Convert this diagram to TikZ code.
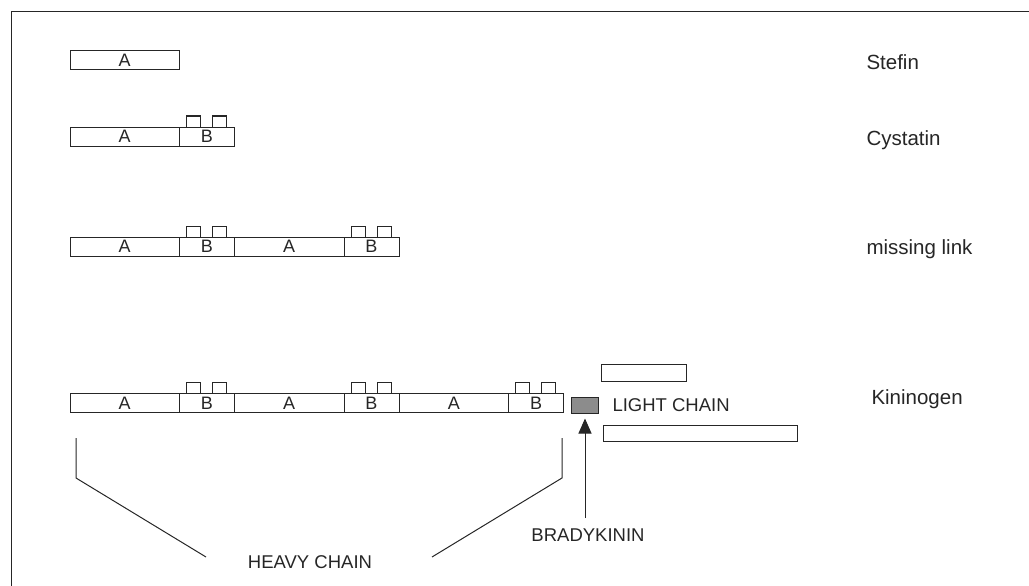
\documentclass[tikz,border=0pt]{standalone}
\usepackage{fontspec}
\setmainfont{Liberation Sans}
\usepackage{tikz}
\usetikzlibrary{arrows.meta}
\usetikzlibrary{positioning}

\begin{document}
\begin{tikzpicture}[
  x=1pt, y=-1pt, color=black!85,
  every path/.style={line width=1pt},
  seg/.style={draw, minimum height=19pt, inner sep=0pt, outer sep=0pt, font=\fontsize{18}{18}\selectfont},
  asgm/.style={seg, minimum width=109.5pt},
  bsgm/.style={seg, minimum width=55pt},
  bump/.style={draw, minimum width=14pt, minimum height=11pt, inner sep=0pt, outer sep=0pt},
  protname/.style={anchor=west, inner sep=0pt, font=\fontsize{20.5}{20.5}\selectfont},
  lbl/.style={inner sep=0pt, font=\fontsize{18.5}{18.5}\selectfont},
]
\tikzset{>={Triangle[length=15pt, width=13pt]}}
\useasboundingbox (0,0) rectangle (1029,586);
\draw (1029,12) -- (11,12) -- (11,586);

% Stefin
\node[asgm, anchor=west] (sA) at (70,60.5) {\raisebox{-1.5pt}{A}};
\node[protname] (stefin) at (866,62) {Stefin};

% Cystatin
\node[asgm, anchor=west] (cA) at (70,136.5) {\raisebox{-1.5pt}{A}};
\node[bsgm, right=0pt of cA] (cB) {\raisebox{-1.5pt}{B}};
\node[bump, anchor=south] (cB1) at ([xshift=-13.5pt]cB.north) {};
\node[bump, anchor=south] (cB2) at ([xshift=12.5pt]cB.north) {};
\node[protname] (cystatin) at (866,140) {Cystatin};

% missing link
\node[asgm, anchor=west] (mA1) at (70,246.5) {\raisebox{-1.5pt}{A}};
\node[bsgm, right=0pt of mA1] (mB1) {\raisebox{-1.5pt}{B}};
\node[asgm, right=0pt of mB1] (mA2) {\raisebox{-1.5pt}{A}};
\node[bsgm, right=0pt of mA2] (mB2) {\raisebox{-1.5pt}{B}};
\foreach \b in {mB1,mB2} {
  \node[bump, anchor=south] (\b-l) at ([xshift=-13.5pt]\b.north) {};
  \node[bump, anchor=south] (\b-r) at ([xshift=12.5pt]\b.north) {};
}
\node[protname] (missing) at (866,249) {missing link};

% Kininogen
\node[asgm, anchor=west] (kA1) at (70,403) {\raisebox{-1.5pt}{A}};
\node[bsgm, right=0pt of kA1] (kB1) {\raisebox{-1.5pt}{B}};
\node[asgm, right=0pt of kB1] (kA2) {\raisebox{-1.5pt}{A}};
\node[bsgm, right=0pt of kA2] (kB2) {\raisebox{-1.5pt}{B}};
\node[asgm, right=0pt of kB2] (kA3) {\raisebox{-1.5pt}{A}};
\node[bsgm, right=0pt of kA3] (kB3) {\raisebox{-1.5pt}{B}};
\foreach \b in {kB1,kB2,kB3} {
  \node[bump, anchor=south] (\b-l) at ([xshift=-13.5pt]\b.north) {};
  \node[bump, anchor=south] (\b-r) at ([xshift=12.5pt]\b.north) {};
}
\node[protname] (kininogen) at (871,399) {Kininogen};

% bradykinin and light chain
\node[draw, fill=black!45, minimum width=27pt, minimum height=16pt, inner sep=0pt] (bk) at (585,405) {};
\node[draw, minimum width=85pt, minimum height=17pt, inner sep=0pt] (lc1) at (643.5,372.5) {};
\node[draw, minimum width=194pt, minimum height=16pt, inner sep=0pt] (lc2) at (700,433) {};
\node[lbl, anchor=west] (light) at (612,405) {LIGHT CHAIN};
\node[lbl] (brady) at (588,535) {BRADYKININ};
\draw[->] ([yshift=10pt]bk.south |- brady.north) -- ([yshift=-5pt]bk.south);

% heavy chain
\node[lbl] (heavy) at (310,562) {HEAVY CHAIN};
\coordinate (hl1) at (76,438);
\coordinate (hl2) at (76,478);
\coordinate (hl3) at (206,557);
\coordinate (hr1) at (562,438);
\coordinate (hr2) at (562,478);
\coordinate (hr3) at (432,557);
\draw (hl1) -- (hl2) -- (hl3);
\draw (hr1) -- (hr2) -- (hr3);
\end{tikzpicture}
\end{document}
